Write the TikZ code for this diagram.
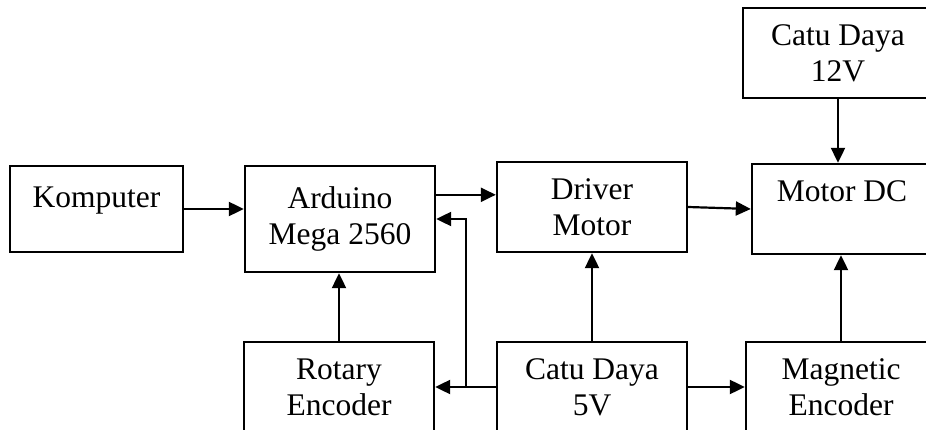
\documentclass[tikz,border=0pt]{standalone}
\usepackage{fontspec}
\setmainfont{Liberation Serif}
\usetikzlibrary{arrows.meta,calc}
\begin{document}
\begin{tikzpicture}[x=1pt,y=-1pt,
  blk/.style={draw, line width=2.4pt, minimum width=190pt, minimum height=90pt, inner sep=0pt, align=center,
    font=\fontsize{31.5}{36}\selectfont},
  arr/.style={line width=2.2pt, -{Triangle[length=15pt,width=14pt]}}]
\useasboundingbox (0,0) rectangle (926,430);
\clip (0,0) rectangle (926,430);
\fill[white] (0,0) rectangle (926,430);
\node[blk, minimum width=173pt, minimum height=86pt] (komp) at (96.5,209) {Komputer\\[-12pt]\mbox{}};
\node[blk, minimum height=106pt] (ard) at (340,219) {Arduino\\Mega 2560};
\node[blk] (drv) at (592,207) {Driver\\Motor};
\node[blk] (c12) at (838,53) {Catu Daya\\12V};
\node[blk, minimum width=180pt] (mdc) at (842,209) {Motor DC\\\mbox{}};
\node[blk] (rot) at (339,387) {Rotary\\Encoder};
\node[blk] (c5) at (592,387) {Catu Daya\\5V};
\node[blk] (mag) at (841,387) {Magnetic\\Encoder};
\coordinate (j) at (466,387);
\draw[arr] (komp.east) -- (komp.east -| ard.west);
\draw[arr] ($(ard.north east)+(0,30)$) -- ($(drv.north west)+(0,34)$);
\draw[arr] (drv.east) -- (mdc.west);
\draw[arr] (c12.south) -- (c12.south |- mdc.north);
\draw[arr] (rot.north) -- (rot.north |- ard.south);
\draw[arr] (c5.north) -- (drv.south);
\draw[arr] (mag.north) -- (mag.north |- mdc.south);
\draw[arr] (c5.west) -- (rot.east);
\draw[arr] (c5.east) -- (mag.west);
\draw[arr] (j) |- (ard.east);
\end{tikzpicture}
\end{document}
